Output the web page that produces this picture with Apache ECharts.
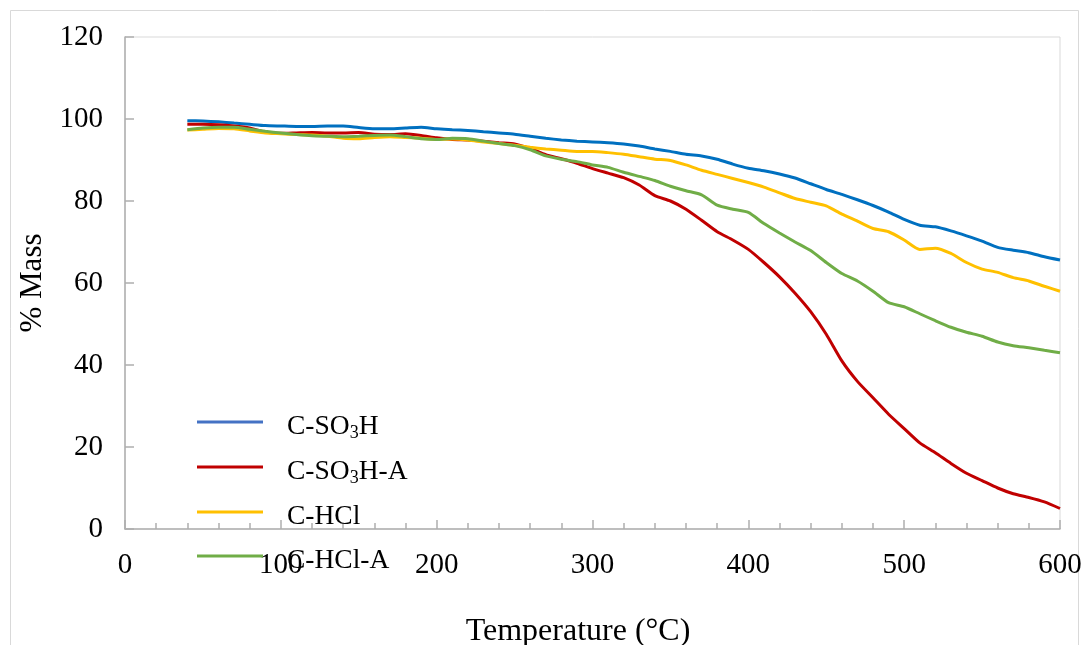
<!DOCTYPE html>
<html>
<head>
<meta charset="utf-8">
<script src="https://cdn.jsdelivr.net/npm/echarts@6/dist/echarts.min.js"></script>
<style>
  html, body { margin: 0; padding: 0; background: #fff; }
  #main { width: 1086px; height: 645px; }
</style>
</head>
<body>
<div id="main"></div>
<script>
// temperature grid (°C)
const temps = [40, 50, 60, 70, 80, 90, 100, 110, 120, 130, 140, 150, 160, 170, 180, 190, 200,
  210, 220, 230, 240, 250, 260, 270, 280, 290, 300, 310, 320, 330, 340, 350, 360, 370, 380, 390,
  400, 410, 420, 430, 440, 450, 460, 470, 480, 490, 500, 510, 520, 530, 540, 550, 560, 570, 580,
  590, 600];

// % mass per sample
const cSO3H = [99.6, 99.5, 99.3, 99.0, 98.7, 98.4, 98.3, 98.2, 98.2, 98.3, 98.3, 97.9, 97.6, 97.6,
  97.8, 98.0, 97.6, 97.4, 97.2, 96.9, 96.6, 96.3, 95.8, 95.3, 94.9, 94.6, 94.4, 94.2, 93.9, 93.4,
  92.7, 92.1, 91.4, 91.0, 90.2, 89.0, 88.0, 87.4, 86.6, 85.6, 84.2, 82.8, 81.6, 80.3, 78.9, 77.3,
  75.5, 74.1, 73.7, 72.7, 71.5, 70.2, 68.7, 68.0, 67.4, 66.4, 65.6];
const cSO3HA = [98.7, 98.7, 98.6, 98.3, 97.8, 96.8, 96.5, 96.6, 96.7, 96.6, 96.6, 96.7, 96.3, 96.2,
  96.4, 96.0, 95.4, 95.0, 94.9, 94.6, 94.2, 93.9, 92.8, 91.3, 90.3, 89.2, 87.9, 86.8, 85.7, 83.9,
  81.3, 80.0, 78.0, 75.3, 72.5, 70.5, 68.2, 65.0, 61.5, 57.5, 53.0, 47.5, 41.0, 36.0, 32.0, 28.0,
  24.5, 21.0, 18.6, 16.0, 13.6, 11.8, 10.0, 8.6, 7.7, 6.6, 5.0];
const cHCl = [97.3, 97.5, 97.7, 97.6, 97.1, 96.6, 96.4, 96.2, 96.1, 95.8, 95.3, 95.2, 95.5, 95.7,
  95.5, 95.3, 95.0, 95.1, 94.9, 94.4, 94.0, 93.6, 93.1, 92.7, 92.4, 92.1, 92.1, 91.8, 91.4, 90.8,
  90.2, 89.9, 88.8, 87.5, 86.5, 85.5, 84.5, 83.4, 82.0, 80.6, 79.7, 78.8, 76.8, 75.1, 73.3, 72.5,
  70.5, 68.2, 68.5, 67.2, 65.0, 63.4, 62.6, 61.3, 60.5, 59.2, 58.0];
const cHClA = [97.4, 97.8, 98.0, 98.0, 97.5, 97.0, 96.6, 96.2, 95.9, 95.8, 95.7, 95.8, 96.0, 96.1,
  95.7, 95.2, 95.0, 95.3, 95.2, 94.6, 94.0, 93.5, 92.5, 91.0, 90.2, 89.6, 88.8, 88.2, 87.0, 86.0,
  85.0, 83.6, 82.5, 81.5, 79.0, 78.0, 77.2, 74.5, 72.2, 70.0, 67.9, 65.0, 62.3, 60.5, 58.0, 55.2,
  54.2, 52.5, 50.8, 49.2, 48.0, 47.0, 45.6, 44.7, 44.2, 43.6, 43.0];

const seriesNames = ['C-SO3H', 'C-SO3H-A', 'C-HCl', 'C-HCl-A'];
const seriesData = [cSO3H, cSO3HA, cHCl, cHClA];
const colors = ['#0070C0', '#C00000', '#FFC000', '#70AD47'];

const font = '"Liberation Serif", "Times New Roman", serif';

let myChart = echarts.init(document.getElementById('main'));

let series = seriesNames.map((name, i) => ({
  name: name,
  type: 'line',
  data: temps.map((t, j) => [t, seriesData[i][j]]),
  showSymbol: false,
  symbol: 'none',
  smooth: 0.2,
  lineStyle: { color: colors[i], width: 3 },
  itemStyle: { color: colors[i] }
}));

let axisCommon = {
  axisLine: { show: true, lineStyle: { color: '#AFAFAF', width: 1.5 } },
  axisTick: { show: true, inside: true, length: 9, lineStyle: { color: '#AFAFAF', width: 1.5 } },
  splitLine: { show: false },
  axisLabel: { color: '#000', fontFamily: font, fontSize: 29, margin: 22 }
};

let option = {
  animation: false,
  backgroundColor: '#fff',
  graphic: [{
    type: 'rect',
    shape: { x: 10.5, y: 10.5, width: 1068, height: 700 },
    style: { fill: 'none', stroke: '#D9D9D9', lineWidth: 1 },
    silent: true
  }],
  grid: {
    left: 125, top: 37, right: 26, bottom: 116,
    show: true, borderColor: '#D9D9D9', borderWidth: 1,
    outerBoundsMode: 'none'
  },
  xAxis: {
    ...axisCommon,
    type: 'value',
    min: 0, max: 600, interval: 100,
    minorTick: { show: true, splitNumber: 5, length: 6, lineStyle: { color: '#AFAFAF', width: 1.5 } },
    name: 'Temperature (°C)',
    nameLocation: 'middle',
    nameGap: 87,
    nameTextStyle: { color: '#000', fontFamily: font, fontSize: 32, padding: [0, 29, 0, 0] }
  },
  yAxis: {
    ...axisCommon,
    type: 'value',
    min: 0, max: 120, interval: 20,
    name: '% Mass',
    nameLocation: 'middle',
    nameRotate: 90,
    nameGap: 74,
    nameTextStyle: { color: '#000', fontFamily: font, fontSize: 31 }
  },
  legend: {
    orient: 'vertical',
    left: 192,
    top: 408,
    itemWidth: 66,
    itemHeight: 3,
    itemGap: 16,
    data: seriesNames.map((n, i) => ({
      name: n,
      icon: 'rect',
      itemStyle: { color: i === 0 ? '#4472C4' : colors[i] }
    })),
    formatter: (name) => name.replace('SO3H', 'SO{sub|3}H'),
    textStyle: {
      color: '#000', fontFamily: font, fontSize: 27.5,
      padding: [10, 0, 0, 19],
      rich: {
        sub: { fontFamily: font, fontSize: 18, padding: [12, 0, 0, 0] }
      }
    }
  },
  series: series
};

myChart.setOption(option);
</script>
</body>
</html>
